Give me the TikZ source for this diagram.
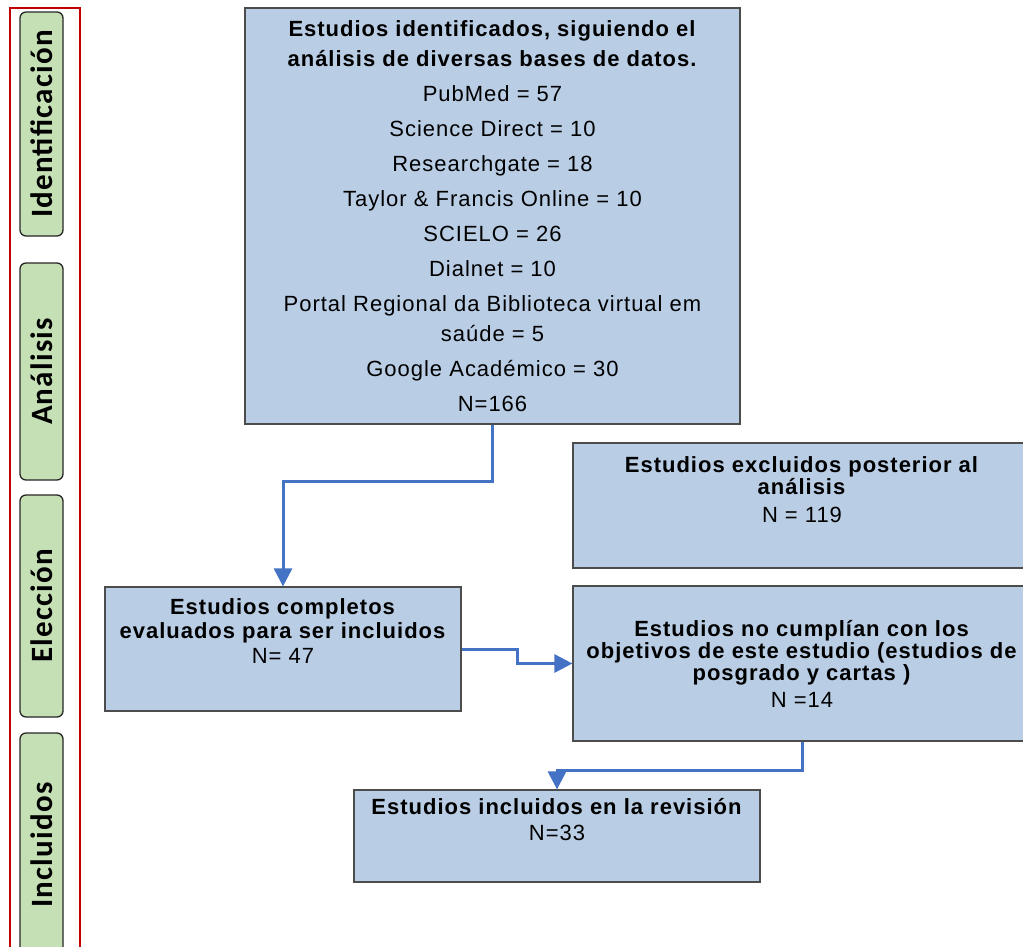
\documentclass[tikz,border=0pt]{standalone}
\usepackage{fontspec}
\setmainfont[LetterSpace=4.5]{Liberation Sans}
\newfontfamily\phasefont[LetterSpace=4]{Carlito}
\usepackage{xcolor}
\usepackage{tikz}
\usetikzlibrary{arrows.meta}

\definecolor{boxblue}{HTML}{B9CDE5}
\definecolor{phasegreen}{HTML}{C5E0B4}
\definecolor{flowblue}{HTML}{4472C4}
\definecolor{framered}{HTML}{C00000}

\begin{document}
\begin{tikzpicture}[x=1pt,y=-1pt,
    box/.style={draw=black!70,line width=1.2pt,fill=boxblue,align=center,inner sep=0pt,font=\fontsize{22}{22}\selectfont},
    phase/.style={draw=black!85,line width=1.3pt,fill=phasegreen,rounded corners=6pt,rotate=90,minimum height=43pt,inner sep=0pt,font=\phasefont\bfseries\fontsize{31}{31}\selectfont},
    flow/.style={draw=flowblue,line width=3pt,-{Triangle[width=18pt,length=18pt]}}]
    \useasboundingbox (0,0) rectangle (1023,946);
    \clip (0,0) rectangle (1023,946);
    \draw [framered,line width=2pt] (10,8) rectangle (80,970);
    \node [phase,minimum width=224pt] (identif) at (41.5,124) {Identificación};
    \node [phase,minimum width=217pt] (analisis) at (41.5,371.5) {Análisis};
    \node [phase,minimum width=222pt] (eleccion) at (41.5,606) {Elección};
    \node [phase,minimum width=224pt] (incluidos) at (41.5,845) {Incluidos};
    \node [box,minimum width=495pt,minimum height=416pt,font=\fontsize{22}{30}\selectfont] (ident) at (492.5,216)
        {\textbf{Estudios identificados, siguiendo el}\\
         \textbf{análisis de diversas bases de datos.}\\[5pt]
         PubMed = 57\\[5pt]
         Science Direct = 10\\[5pt]
         Researchgate = 18\\[5pt]
         Taylor \& Francis Online = 10\\[5pt]
         SCIELO = 26\\[5pt]
         Dialnet = 10\\[5pt]
         Portal Regional da Biblioteca virtual em\\
         saúde = 5\\[5pt]
         Google Académico = 30\\[5pt]
         N=166};
    \node [box,minimum width=458pt,minimum height=125pt] (excl) at (802,505.5)
        {\textbf{Estudios excluidos posterior al}\\
         \textbf{análisis}\\[6pt]
         N = 119\\[9pt]
         \rule{0pt}{0pt}};
    \node [box,minimum width=356pt,minimum height=124pt] (compl) at (283,649)
        {\textbf{Estudios completos}\\[2pt]
         \textbf{evaluados para ser incluidos}\\[3pt]
         N= 47\\[14pt]
         \rule{0pt}{0pt}};
    \node [box,minimum width=458pt,minimum height=155pt] (nocump) at (802,663.5)
        {\textbf{Estudios no cumplían con los}\\
         \textbf{objetivos de este estudio (estudios de}\\
         \textbf{posgrado y cartas )}\\[5pt]
         N =14};
    \node [box,minimum width=406pt,minimum height=92pt] (incl) at (557,836)
        {\textbf{Estudios incluidos en la revisión}\\[4pt]
         N=33\\[12pt]
         \rule{0pt}{0pt}};
    \draw [flow] (ident.south) -- ++(0,57) -| (compl.north);
    \draw [flow] (compl.east) -- ++(56,0) |- (nocump.west);
    \draw [flow] (nocump.south) -- ++(0,29) -| (incl.north);
\end{tikzpicture}
\end{document}
